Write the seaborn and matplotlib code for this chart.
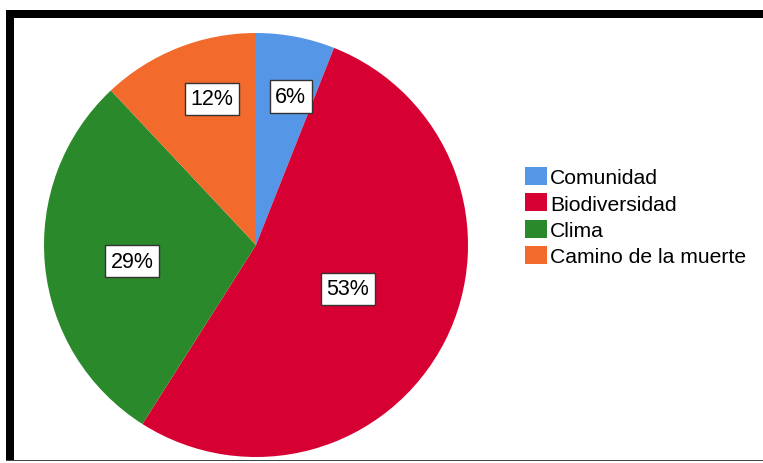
import matplotlib
matplotlib.use("Agg")
import matplotlib.pyplot as plt
from matplotlib.patches import Rectangle
import numpy as np
import seaborn as sns

# Shares of responses by theme
categories = ["Comunidad", "Biodiversidad", "Clima", "Camino de la muerte"]
values = [6, 53, 29, 12]
pct_labels = ["6%", "53%", "29%", "12%"]
colors = ["#5596E6", "#D70032", "#2A8A2B", "#F26A2C"]

sns.set_theme(style="white")
plt.rcParams["font.family"] = ["Liberation Sans", "DejaVu Sans"]

W, H = 763, 464
fig = plt.figure(figsize=(W / 100, H / 100), dpi=100)
fig.patch.set_facecolor("white")

# pie axes: centre (256, 246) px, radius 212 px
cx, cy, R = 256, 246, 212
ax = fig.add_axes([(cx - R) / W, (H - cy - R) / H, 2 * R / W, 2 * R / H])
wedges, _ = ax.pie(values, colors=sns.color_palette(colors), startangle=90,
                   counterclock=False, radius=1.0,
                   wedgeprops=dict(linewidth=0, antialiased=True))
ax.set_xlim(-1, 1)
ax.set_ylim(-1, 1)
ax.set_aspect("auto")
ax.axis("off")

# percentage labels in white boxes (radial distance, angular nudge in degrees)
dists = [0.72, 0.48, 0.59, 0.72]
nudges = [-2.4, 1.4, 2.0, -4.8]
for w, lab, d, dn in zip(wedges, pct_labels, dists, nudges):
    ang = np.deg2rad((w.theta1 + w.theta2) / 2 + dn)
    ax.text(d * np.cos(ang), d * np.sin(ang), lab, ha="center", va="center",
            fontsize=15.5, color="black",
            bbox=dict(boxstyle="square,pad=0.27", facecolor="white",
                      edgecolor="#333333", linewidth=1.0))

leg = fig.legend(wedges, categories, loc="upper left",
                 bbox_to_anchor=(525 / W, 1 - 168 / H),
                 frameon=False, fontsize=15.2, handlelength=1.05,
                 handleheight=0.95, handletextpad=0.15, labelspacing=0.28,
                 borderpad=0, borderaxespad=0)
for t in leg.get_texts():
    t.set_color("black")

# frame: heavy bars on top and left, thin line at the bottom
def px_rect(x0, y0, x1, y1, color):
    fig.patches.append(Rectangle((x0 / W, 1 - y1 / H), (x1 - x0) / W, (y1 - y0) / H,
                                 transform=fig.transFigure, facecolor=color,
                                 edgecolor="none", zorder=10))

px_rect(6, 11, W, 19, "black")
px_rect(6, 11, 14, 462, "black")
px_rect(6, 460.5, W, 462, "#444444")

fig.savefig("out.png", dpi=100, facecolor="white")
